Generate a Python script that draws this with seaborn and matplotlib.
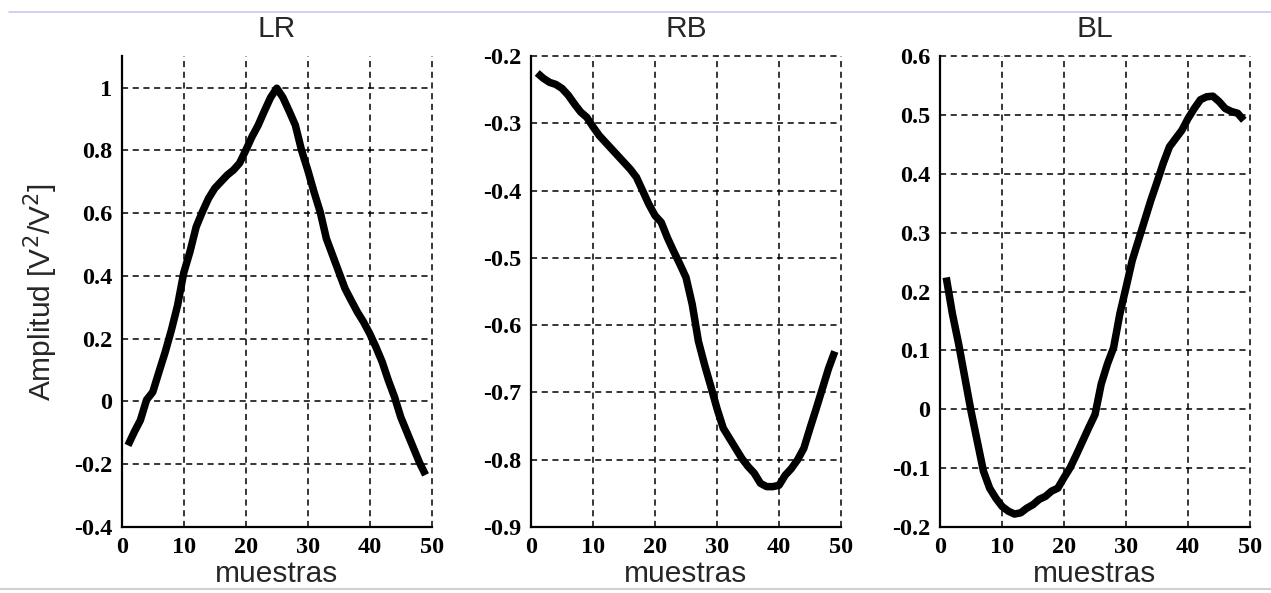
import numpy as np
import pandas as pd
import matplotlib
matplotlib.use("Agg")
import matplotlib.pyplot as plt
import seaborn as sns
from matplotlib.lines import Line2D

# ---- data ----
muestras = list(range(1, 50))

lr = [-0.14, -0.098, -0.06, 0.005, 0.03, 0.094, 0.157, 0.227, 0.306, 0.41,
      0.477, 0.556, 0.604, 0.647, 0.679, 0.70, 0.721, 0.737, 0.759, 0.80,
      0.843, 0.88, 0.925, 0.968, 0.998, 0.968, 0.925, 0.88, 0.80, 0.737,
      0.668, 0.604, 0.519, 0.466, 0.413, 0.36, 0.322, 0.285, 0.253, 0.216,
      0.173, 0.126, 0.067, 0.014, -0.05, -0.098, -0.146, -0.194, -0.234]

rb = [-0.225, -0.233, -0.239, -0.242, -0.248, -0.258, -0.271, -0.283, -0.291, -0.305,
      -0.318, -0.328, -0.338, -0.348, -0.358, -0.368, -0.38, -0.40, -0.42, -0.437,
      -0.447, -0.47, -0.49, -0.509, -0.529, -0.569, -0.624, -0.659, -0.691, -0.724,
      -0.753, -0.768, -0.783, -0.798, -0.81, -0.82, -0.835, -0.84, -0.84, -0.838,
      -0.823, -0.813, -0.80, -0.783, -0.753, -0.724, -0.694, -0.664, -0.639]

bl = [0.224, 0.162, 0.111, 0.054, -0.003, -0.054, -0.105, -0.134, -0.151, -0.165,
      -0.173, -0.178, -0.176, -0.168, -0.162, -0.153, -0.148, -0.139, -0.134, -0.116,
      -0.099, -0.077, -0.054, -0.031, -0.009, 0.043, 0.077, 0.105, 0.162, 0.207,
      0.253, 0.287, 0.321, 0.355, 0.386, 0.418, 0.446, 0.46, 0.474, 0.494,
      0.511, 0.526, 0.531, 0.532, 0.523, 0.511, 0.506, 0.503, 0.491]

titles = ["LR", "RB", "BL"]
x_ticks = [0, 10, 20, 30, 40, 50]
x_ticklabels = ["0", "10", "20", "30", "40", "50"]

lr_yticks = [-0.4, -0.2, 0, 0.2, 0.4, 0.6, 0.8, 1.0]
lr_yticklabels = ["-0.4", "-0.2", "0", "0.2", "0.4", "0.6", "0.8", "1"]
rb_yticks = [-0.9, -0.8, -0.7, -0.6, -0.5, -0.4, -0.3, -0.2]
rb_yticklabels = ["-0.9", "-0.8", "-0.7", "-0.6", "-0.5", "-0.4", "-0.3", "-0.2"]
bl_yticks = [-0.2, -0.1, 0, 0.1, 0.2, 0.3, 0.4, 0.5, 0.6]
bl_yticklabels = ["-0.2", "-0.1", "0", "0.1", "0.2", "0.3", "0.4", "0.5", "0.6"]

ylims = [(-0.4, 1.1), (-0.9, -0.2), (-0.2, 0.6)]
series = [lr, rb, bl]
yticks_all = [lr_yticks, rb_yticks, bl_yticks]
yticklabels_all = [lr_yticklabels, rb_yticklabels, bl_yticklabels]

# ---- style ----
sns.set_style("white")
plt.rcParams["font.family"] = ["Liberation Sans", "DejaVu Sans"]
plt.rcParams["axes.unicode_minus"] = False

fig = plt.figure(figsize=(12.71, 5.93), dpi=100)
fig.patch.set_facecolor("white")

lefts = [0.0958, 0.4178, 0.7396]
bottom, width, height = 0.1113, 0.2439, 0.794

tick_font = dict(family=["Liberation Serif", "DejaVu Serif"], weight="bold", size=17.5)

for i in range(3):
    ax = fig.add_axes([lefts[i], bottom, width, height])
    df = pd.DataFrame({"muestras": muestras, "amp": series[i]})
    sns.lineplot(data=df, x="muestras", y="amp", ax=ax, color="black",
                 linewidth=5.4, solid_capstyle="butt", zorder=3)
    ax.set_xlim(0, 50)
    ax.set_ylim(*ylims[i])
    ax.set_xticks(x_ticks)
    ax.set_xticklabels(x_ticklabels, fontdict=tick_font)
    ax.set_yticks(yticks_all[i])
    ax.set_yticklabels(yticklabels_all[i], fontdict=tick_font)
    ax.grid(True, color="black", linestyle=(0, (4, 3)), linewidth=1.1, zorder=1)
    for gl in ax.get_xgridlines() + ax.get_ygridlines():
        gl.set_clip_on(False)
    ax.set_axisbelow(True)
    for s in ["top", "right"]:
        ax.spines[s].set_visible(False)
    for s in ["left", "bottom"]:
        ax.spines[s].set_color("black")
        ax.spines[s].set_linewidth(1.6)
        ax.spines[s].set_zorder(4)
    ax.tick_params(direction="in", length=4, width=1, colors="black", pad=7)
    ax.set_title(titles[i], fontsize=21.5, pad=14)
    ax.set_xlabel("muestras", fontsize=21.5, labelpad=2)
    if i == 0:
        ax.set_ylabel("Amplitud [V$^2$/V$^2$]", fontsize=21.5, labelpad=10)
    else:
        ax.set_ylabel("")

# screenshot border lines
fig.add_artist(Line2D([0.007, 1.0], [1 - 11.5 / 593, 1 - 11.5 / 593],
                      transform=fig.transFigure, color="#c8c8ee", linewidth=1.2))
fig.add_artist(Line2D([0.0, 1.0], [1 - 588.5 / 593, 1 - 588.5 / 593],
                      transform=fig.transFigure, color="#d0d0d0", linewidth=1.5))

fig.savefig("out.png", dpi=100, facecolor="white")
